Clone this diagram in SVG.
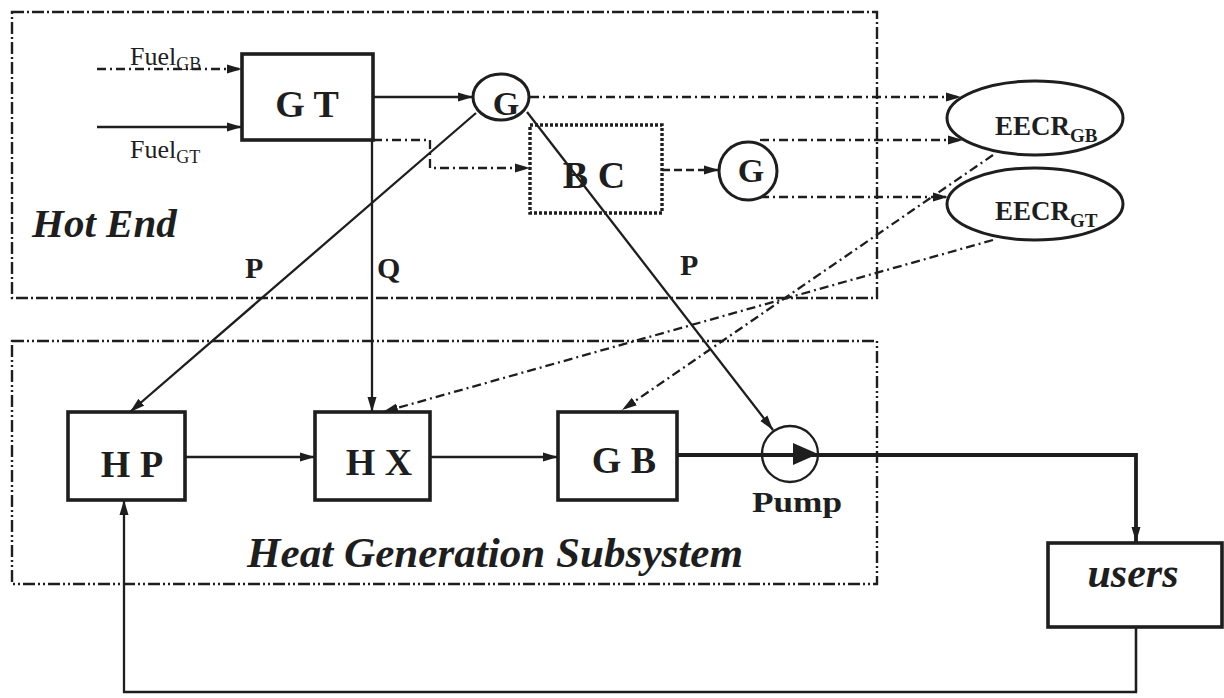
<svg xmlns="http://www.w3.org/2000/svg" width="1224" height="698" viewBox="0 0 1224 698">
<style>
.bg{fill:#fff}
.frame{fill:none;stroke:#1e1e1e;stroke-width:2.4}
.dd{stroke-dasharray:12 3 2 3}
.ddd{stroke-dasharray:12 3 2 3 2 3}
.box{fill:#fff;stroke:#1e1e1e;stroke-width:3.6}
.dotbox{fill:none;stroke:#1e1e1e;stroke-width:3.4;stroke-dasharray:3 2}
.ell{fill:#fff;stroke:#1e1e1e;stroke-width:3}
.ln{fill:none;stroke:#1e1e1e;stroke-width:2.3}
.dash{stroke-dasharray:9 4 2 4}
.dashed{stroke-dasharray:8 4}
.thick{fill:none;stroke:#1e1e1e;stroke-width:3.8}
.t{font-family:"Liberation Serif","Times New Roman",serif;fill:#1e1e1e}
.b{font-weight:bold}
.i{font-style:italic}
</style>
<defs>
<marker id="ah" markerUnits="userSpaceOnUse" markerWidth="16" markerHeight="10" refX="15" refY="5" orient="auto">
<path d="M0,0.5 L15,5 L0,9.5 z" fill="#1e1e1e"/>
</marker>
</defs>
<rect class="bg" x="0" y="0" width="1224" height="698"/>
<g id="hot-end-frame">
<rect class="frame dd" x="12" y="12" width="865" height="286"/>
<text class="t b i" x="32" y="237" font-size="41">Hot End</text>
</g>
<g id="heat-gen-frame">
<rect class="frame ddd" x="12" y="341" width="865" height="243"/>
<text class="t b i" x="247" y="567" font-size="42" textLength="496" lengthAdjust="spacingAndGlyphs">Heat Generation Subsystem</text>
</g>
<g id="connectors">
<line class="ln dash" x1="97" y1="69" x2="242" y2="69" marker-end="url(#ah)"/>
<line class="ln" x1="97" y1="127" x2="242" y2="127" marker-end="url(#ah)"/>
<line class="ln" x1="373" y1="97" x2="473" y2="97" marker-end="url(#ah)"/>
<line class="ln dash" x1="530" y1="97" x2="961" y2="97" marker-end="url(#ah)"/>
<line class="ln dash" x1="760" y1="140" x2="963" y2="140" marker-end="url(#ah)"/>
<line class="ln dash" x1="760" y1="197" x2="948" y2="197" marker-end="url(#ah)"/>
<path class="ln dash" d="M373,140 H430 V168 H530" marker-end="url(#ah)"/>
<line class="ln dashed" x1="662" y1="170" x2="719" y2="170" marker-end="url(#ah)"/>
<line class="ln" x1="476" y1="113" x2="130" y2="412" marker-end="url(#ah)"/>
<line class="ln" x1="527" y1="112" x2="773" y2="430" marker-end="url(#ah)"/>
<line class="ln" x1="372" y1="140" x2="372" y2="412" marker-end="url(#ah)"/>
<line class="ln dash" x1="993" y1="155" x2="622" y2="410" marker-end="url(#ah)"/>
<line class="ln dash" x1="993" y1="240" x2="383" y2="412" marker-end="url(#ah)"/>
<line class="ln" x1="185" y1="457" x2="315" y2="457" marker-end="url(#ah)"/>
<line class="ln" x1="430" y1="457" x2="558" y2="457" marker-end="url(#ah)"/>
<path class="thick" d="M677,455 H1136 V542" marker-end="url(#ah)"/>
<path class="ln" d="M1136,627 V692 H124 V500" marker-end="url(#ah)"/>
<path class="ln" d="M1136,627 V692" stroke-width="3.6"/>
</g>
<g id="node-gt">
<rect class="box" x="242" y="54" width="131" height="86"/>
<text class="t b" x="307" y="117" font-size="38" text-anchor="middle">G T</text>
</g>
<g id="node-fuel-gb">
<text class="t" x="130" y="65" font-size="26">Fuel<tspan font-size="18" dy="5">GB</tspan></text>
</g>
<g id="node-fuel-gt">
<text class="t" x="130" y="158" font-size="26">Fuel<tspan font-size="18" dy="5">GT</tspan></text>
</g>
<g id="node-g1">
<ellipse class="ell" cx="501" cy="97" rx="28" ry="23"/>
<text class="t b" x="506" y="115" font-size="34" text-anchor="middle">G</text>
</g>
<g id="node-bc">
<rect class="dotbox" x="530" y="125" width="132" height="88"/>
<text class="t b" x="594" y="188" font-size="38" text-anchor="middle">B C</text>
</g>
<g id="node-g2">
<circle class="ell" cx="748" cy="171" r="29"/>
<text class="t b" x="751" y="182" font-size="34" text-anchor="middle">G</text>
</g>
<g id="node-eecr-gb">
<ellipse class="ell" cx="1035" cy="118" rx="88" ry="37"/>
<text class="t b" x="995" y="135" font-size="27">EECR<tspan font-size="19" dy="7">GB</tspan></text>
</g>
<g id="node-eecr-gt">
<ellipse class="ell" cx="1035" cy="204" rx="88" ry="36"/>
<text class="t b" x="995" y="220" font-size="27">EECR<tspan font-size="19" dy="7">GT</tspan></text>
</g>
<g id="labels">
<text class="t b" x="245" y="278" font-size="30">P</text>
<text class="t b" x="377" y="278" font-size="30">Q</text>
<text class="t b" x="680" y="275" font-size="30">P</text>
</g>
<g id="node-hp">
<rect class="box" x="68" y="412" width="117" height="88"/>
<text class="t b" x="132" y="477" font-size="38" text-anchor="middle">H P</text>
</g>
<g id="node-hx">
<rect class="box" x="315" y="412" width="115" height="88"/>
<text class="t b" x="379" y="475" font-size="38" text-anchor="middle">H X</text>
</g>
<g id="node-gb">
<rect class="box" x="558" y="412" width="119" height="88"/>
<text class="t b" x="624" y="473" font-size="38" text-anchor="middle">G B</text>
</g>
<g id="node-pump">
<circle cx="790" cy="454" r="28" fill="none" stroke="#1e1e1e" stroke-width="2.3"/>
<path d="M793,443 L818,454 L793,465 z" fill="#1e1e1e"/>
<text class="t b" x="752" y="512" font-size="29" textLength="90" lengthAdjust="spacingAndGlyphs">Pump</text>
</g>
<g id="node-users">
<rect class="box" x="1048" y="543" width="174" height="84"/>
<text class="t b i" x="1133" y="587" font-size="42" text-anchor="middle">users</text>
</g>
</svg>
